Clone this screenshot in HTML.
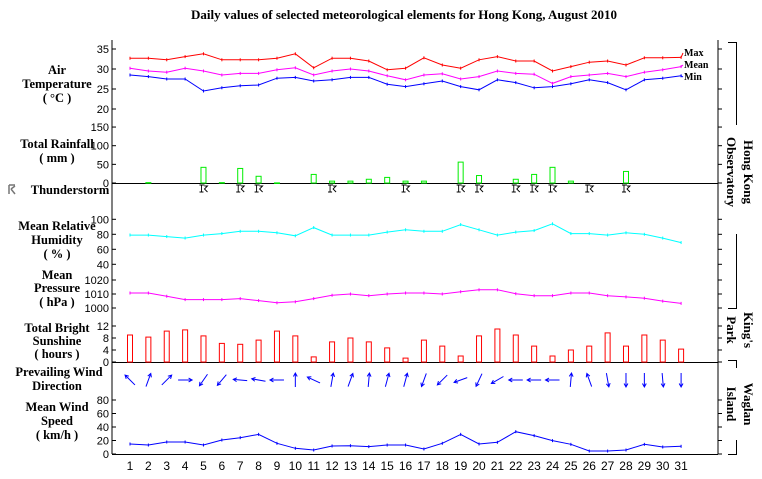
<!DOCTYPE html>
<html><head><meta charset="utf-8"><style>
html,body{margin:0;padding:0;background:#fff;}
svg{display:block;}
.lab{font-family:"Liberation Serif",serif;font-weight:bold;font-size:13px;fill:#000;}
.plab{font-family:"Liberation Serif",serif;font-weight:bold;font-size:12.5px;fill:#000;}
.tk{font-family:"Liberation Sans",sans-serif;font-size:11px;fill:#000;}
.xl{font-family:"Liberation Sans",sans-serif;font-size:12px;fill:#000;}
.lg{font-family:"Liberation Serif",serif;font-weight:bold;font-size:10px;}
</style></head><body>
<svg id="chart" width="762" height="479" viewBox="0 0 762 479" xmlns="http://www.w3.org/2000/svg">
<text x="404" y="19" text-anchor="middle" class="lab">Daily values of selected meteorological elements for Hong Kong, August 2010</text>
<g id="frame" stroke="#000" stroke-width="1" fill="none">
<line x1="112" y1="40" x2="112" y2="454"/>
<line x1="718" y1="40" x2="718" y2="454"/>
<line x1="112" y1="183.5" x2="718" y2="183.5"/>
<line x1="112" y1="362.5" x2="718" y2="362.5"/>
<line x1="112" y1="454.5" x2="718" y2="454.5"/>
</g>
<g class="plab" text-anchor="middle">
<text x="57" y="74">Air</text><text x="57" y="88">Temperature</text><text x="57" y="102">( °C )</text>
<text x="57" y="148">Total Rainfall</text><text x="57" y="162">( mm )</text>
<text x="70" y="194">Thunderstorm</text>
<text x="57" y="230">Mean Relative</text><text x="57" y="244">Humidity</text><text x="57" y="258">( % )</text>
<text x="57" y="279">Mean</text><text x="57" y="292">Pressure</text><text x="57" y="306">( hPa )</text>
<text x="57" y="332">Total Bright</text><text x="57" y="345">Sunshine</text><text x="57" y="358">( hours )</text>
<text x="59" y="376">Prevailing Wind</text><text x="57" y="390">Direction</text>
<text x="57" y="411">Mean Wind</text><text x="57" y="425">Speed</text><text x="57" y="439">( km/h )</text>
</g>
<g stroke="#777" stroke-width="1.5" fill="none">
<path d="M9,185 v9 M9,185 h6 M11,189 l4,-3 M11,189 l4,5"/>
</g>
<g stroke="#000" fill="none">
<path d="M728,42.5 H736.5 V125"/>
<path d="M736.5,234 V308.5 H728"/>
<path d="M728,360.5 H736.5 V368"/>
<path d="M736.5,440 V454.5 H728"/>
</g>
<g class="lab">
<text transform="translate(744,172) rotate(90)" text-anchor="middle"><tspan x="0" dy="0">Hong Kong</tspan><tspan x="0" dy="17">Observatory</tspan></text>
<text transform="translate(744,330) rotate(90)" text-anchor="middle"><tspan x="0" dy="0">King's</tspan><tspan x="0" dy="17">Park</tspan></text>
<text transform="translate(744,404) rotate(90)" text-anchor="middle"><tspan x="0" dy="0">Waglan</tspan><tspan x="0" dy="17">Island</tspan></text>
</g>
<g id="axes"></g>
<g id="marks"></g>
</svg>
<script>
const days = [1,2,3,4,5,6,7,8,9,10,11,12,13,14,15,16,17,18,19,20,21,22,23,24,25,26,27,28,29,30,31];
const tempMax = [32.7,32.7,32.3,33.1,33.8,32.3,32.3,32.3,32.7,33.8,30.3,32.7,32.7,32.0,29.8,30.2,32.8,31.0,30.2,32.3,33.1,32.0,32.0,29.5,30.6,31.7,32.0,31.0,32.8,32.8,32.9];
const tempMean = [30.2,29.5,29.2,30.2,29.5,28.5,28.9,28.9,29.8,30.3,28.5,29.5,30.0,29.5,28.3,27.3,28.5,28.8,27.5,28.1,29.5,28.9,28.7,26.4,28.1,28.5,28.9,28.1,29.2,29.8,30.6];
const tempMin = [28.5,28.1,27.5,27.5,24.5,25.3,25.8,26.0,27.7,27.9,27.0,27.3,27.9,27.9,26.2,25.6,26.3,27.0,25.6,24.8,27.3,26.6,25.3,25.6,26.3,27.3,26.6,24.8,27.3,27.7,28.3];
const rainfall = [0,1,0,0,42,1,39,18,0.3,0,23,5,5,10,15,5,5,0,56,20,0,10,23,42,5,0,0,31,0,0,0];
const thunderDays = [5,7,8,12,16,19,20,22,23,24,26,28];
const humidity = [79,79,77,75,79,81,84,84,82,78,89,79,79,79,83,86,84,84,93,86,79,83,85,94,81,81,79,82,80,75,69];
const pressure = [1010.7,1010.7,1008.4,1006.0,1006.0,1006.0,1006.7,1005.3,1003.7,1004.4,1006.7,1009.1,1010.0,1008.8,1010.0,1010.7,1010.7,1010.0,1011.6,1013.0,1013.0,1010.2,1008.8,1008.8,1010.7,1010.7,1008.8,1007.9,1007.0,1004.9,1003.3];
const sunshine = [9.0,8.3,10.3,10.7,8.7,6.2,5.9,7.3,10.3,8.7,1.7,6.7,8.0,6.7,4.7,1.3,7.3,5.3,2.0,8.7,11.0,9.0,5.3,2.0,4.0,5.3,9.7,5.3,9.0,7.3,4.3];
const windDir = [315,20,45,90,215,220,275,280,270,0,295,10,20,5,15,15,200,225,250,205,240,270,270,270,5,340,170,180,180,175,180];
const windSpeed = [14.8,13.3,17.8,17.8,13.3,20.7,24.2,29.1,15.8,8.4,5.9,11.9,12.3,10.9,13.3,13.3,7.4,15.8,29.1,14.8,17.3,33.1,27.2,19.8,14.3,4.4,4.4,5.9,14.3,10.4,11.4];
const tempTicks = [35,30,25,20];
const rainTicks = [150,100,50,0];
const humTicks = [100,80,60,40];
const presTicks = [1020,1010,1000];
const sunTicks = [12,8,4,0];
const windTicks = [80,60,40,20,0];

const NS = "http://www.w3.org/2000/svg";
const xd = d => 130 + (d - 1) * 18.37;
const yT = t => 49 + (35 - t) * 4;
const yR = r => 183 - r * 0.373;
const yH = h => 219.3 + (100 - h) * 0.75;
const yP = p => 294 - (p - 1010) * 1.4;
const yS = s => 362 - s * 3;
const yW = w => 454 - w * 0.675;

function mk(tag, attrs, parent) {
  const e = document.createElementNS(NS, tag);
  for (const k in attrs) e.setAttribute(k, attrs[k]);
  parent.appendChild(e);
  return e;
}
const axes = document.getElementById('axes');
const marks = document.getElementById('marks');

function ticks(vals, scale, name) {
  vals.forEach(v => {
    const y = scale(v);
    const t = mk('text', {x: 109, y: y + 4, 'text-anchor': 'end', class: 'tk'}, axes);
    t.textContent = v;
    
    
    const l = mk('line', {x1: 112, x2: 116, y1: y, y2: y, stroke: '#000'}, axes);
    
    
    const r = mk('line', {x1: 718, x2: 722, y1: y, y2: y, stroke: '#000'}, axes);
    
    
  });
}
ticks(tempTicks, yT, 'temperature');
ticks(rainTicks, yR, 'rainfall');
ticks(humTicks, yH, 'humidity');
ticks(presTicks, yP, 'pressure');
ticks(sunTicks, yS, 'sunshine');
ticks(windTicks, yW, 'wind-speed');

days.forEach(d => {
  const t = mk('text', {x: xd(d), y: 470, 'text-anchor': 'middle', class: 'xl'}, axes);
  t.textContent = d;
  
  
});

function line(vals, scale, color, name) {
  const pts = vals.map((v, i) => xd(days[i]).toFixed(1) + ',' + scale(v).toFixed(1)).join(' ');
  const p = mk('polyline', {points: pts, fill: 'none', stroke: color, 'stroke-width': 1}, marks);
  
  
  vals.forEach((v, i) => {
    const m = mk('line', {x1: xd(days[i]), x2: xd(days[i]), y1: scale(v) - 1.5, y2: scale(v) + 1.5, stroke: color}, marks);
    
    
  });
}
line(tempMax, yT, '#ff0000', 'max-temperature-line');
line(tempMean, yT, '#ff00ff', 'mean-temperature-line');
line(tempMin, yT, '#0000ff', 'min-temperature-line');
line(humidity, yH, '#00ffff', 'humidity-line');
line(pressure, yP, '#ff00ff', 'pressure-line');
line(windSpeed, yW, '#0000ff', 'wind-speed-line');

[['Max', tempMax, '#ff0000', 56], ['Mean', tempMean, '#ff00ff', 68], ['Min', tempMin, '#0000ff', 80]].forEach(([lab, arr, c, ly]) => {
  const last = arr[arr.length - 1];
  const l = mk('line', {x1: xd(31), y1: yT(last), x2: 683, y2: ly - 3, stroke: c}, marks);
  
  
  const t = mk('text', {x: 684, y: ly, class: 'lg', fill: '#000'}, marks);
  t.textContent = lab;
  
  
});

rainfall.forEach((r, i) => {
  if (r <= 0) return;
  const y = yR(r);
  const b = mk('rect', {x: xd(days[i]) - 2.5, y: y, width: 5, height: Math.max(183 - y, 0.5), fill: 'none', stroke: '#00ee00', 'stroke-width': 1}, marks);
  
  
});

thunderDays.forEach(d => {
  const x = xd(d);
  const g = mk('path', {d: `M${x-4},185 h5 M${x-2},185 v7 M${x-4},192 h4 M${x+1},186 l3,0 l-3,3 l3,3`, fill: 'none', stroke: '#000', 'stroke-width': 0.9}, marks);
  
  
});

sunshine.forEach((s, i) => {
  const y = yS(s);
  const b = mk('rect', {x: xd(days[i]) - 2.5, y: y, width: 5, height: 362 - y, fill: 'none', stroke: '#ff0000', 'stroke-width': 1}, marks);
  
  
});

windDir.forEach((deg, i) => {
  const a = deg * Math.PI / 180, L = 14;
  const cx = xd(days[i]), cy = 380;
  const dx = Math.sin(a), dy = -Math.cos(a);
  const x1 = cx - dx * L / 2, y1 = cy - dy * L / 2, x2 = cx + dx * L / 2, y2 = cy + dy * L / 2;
  const h = 4, s = 0.5;
  const ax = x2 - h * (dx * Math.cos(s) - dy * Math.sin(s)), ay = y2 - h * (dy * Math.cos(s) + dx * Math.sin(s));
  const bx = x2 - h * (dx * Math.cos(-s) - dy * Math.sin(-s)), by = y2 - h * (dy * Math.cos(-s) + dx * Math.sin(-s));
  const p = mk('path', {d: `M${x1},${y1} L${x2},${y2} M${ax},${ay} L${x2},${y2} L${bx},${by}`, fill: 'none', stroke: '#0000ff', 'stroke-width': 1}, marks);
  
  
});
</script>
</body></html>
